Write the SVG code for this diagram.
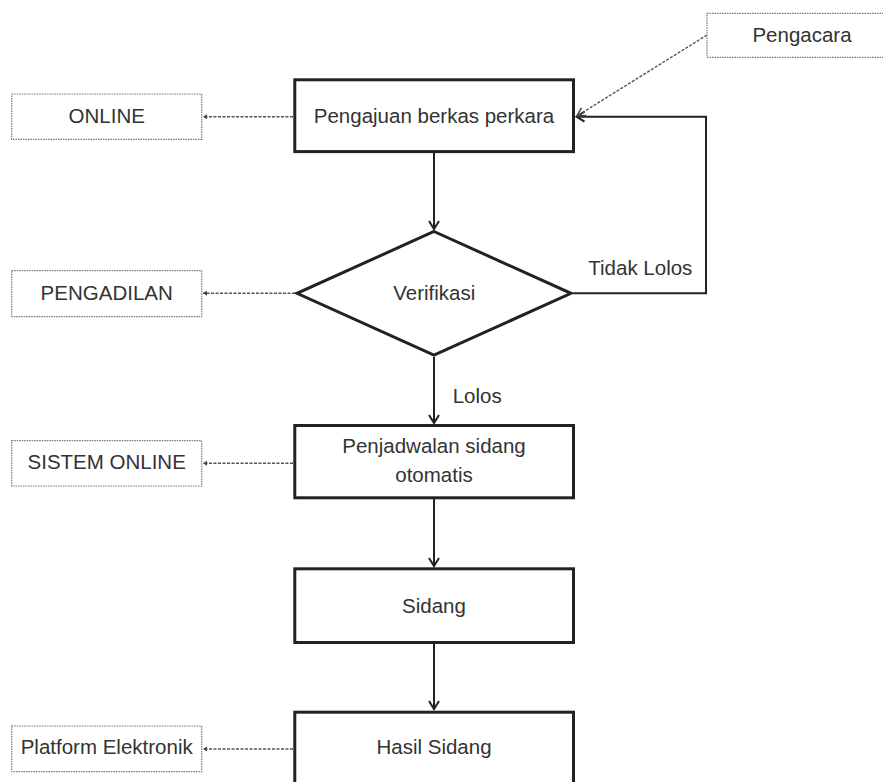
<svg xmlns="http://www.w3.org/2000/svg" width="883" height="782" viewBox="0 0 883 782">
<style>
  text { font-family: "Liberation Sans", Arial, sans-serif; font-size: 20.5px; fill: #333; }
  .c { text-anchor: middle; }
  .proc { fill: #fff; stroke: #222; stroke-width: 3; }
  .note { fill: #fff; stroke: #777; stroke-width: 1.2; stroke-dasharray: 1.5 1; }
  .flow { fill: none; stroke: #222; stroke-width: 2; }
  .assoc { fill: none; stroke: #555; stroke-width: 1.4; stroke-dasharray: 3 1.5; }
</style>
<defs>
  <marker id="arr" markerUnits="userSpaceOnUse" markerWidth="14" markerHeight="14" viewBox="-10 -7 12 14" refX="0" refY="0" orient="auto">
    <path d="M-8,-5 L0,0 L-8,5" fill="none" stroke="#222" stroke-width="2"/>
  </marker>
  <marker id="arrThin" markerUnits="userSpaceOnUse" markerWidth="14" markerHeight="14" viewBox="-10 -7 12 14" refX="0" refY="0" orient="auto">
    <path d="M-8,-4.5 L0,0 L-8,4.5" fill="none" stroke="#444" stroke-width="1.5"/>
  </marker>
  <marker id="dot" markerUnits="userSpaceOnUse" markerWidth="8" markerHeight="8" viewBox="-5 -4 8 8" refX="0" refY="0" orient="auto">
    <path d="M-4,-2.5 L0,0 L-4,2.5 Z" fill="#444"/>
  </marker>
</defs>

<g id="connectors">
  <line class="flow" x1="434" y1="153" x2="434" y2="229" marker-end="url(#arr)"/>
  <line class="flow" x1="434" y1="357" x2="434" y2="423" marker-end="url(#arr)"/>
  <line class="flow" x1="434" y1="499" x2="434" y2="566" marker-end="url(#arr)"/>
  <line class="flow" x1="434" y1="644" x2="434" y2="709" marker-end="url(#arr)"/>
  <polyline class="flow" points="573,293.3 706,293.3 706,116.7 576.5,116.7" marker-end="url(#arr)"/>
  <line class="assoc" x1="707" y1="35" x2="577" y2="116" marker-end="url(#arrThin)"/>
  <line class="assoc" x1="293" y1="116.7" x2="203" y2="116.7" marker-end="url(#dot)"/>
  <line class="assoc" x1="295" y1="293.3" x2="203" y2="293.3" marker-end="url(#dot)"/>
  <line class="assoc" x1="293" y1="463.3" x2="203" y2="463.3" marker-end="url(#dot)"/>
  <line class="assoc" x1="293" y1="749" x2="203" y2="749" marker-end="url(#dot)"/>
  <text x="588.3" y="275">Tidak Lolos</text>
  <text x="452.7" y="403.3">Lolos</text>
</g>

<g id="pengacara">
  <rect class="note" x="707" y="13.3" width="190" height="44"/>
  <text class="c" x="802" y="42">Pengacara</text>
</g>
<g id="online">
  <rect class="note" x="11.7" y="94" width="190" height="45.3"/>
  <text class="c" x="106.7" y="122.7">ONLINE</text>
</g>
<g id="pengajuan">
  <rect class="proc" x="294.8" y="79.8" width="278.7" height="71.8"/>
  <text class="c" x="434" y="123.3">Pengajuan berkas perkara</text>
</g>
<g id="pengadilan">
  <rect class="note" x="11.7" y="270.7" width="190" height="46"/>
  <text class="c" x="106.7" y="300">PENGADILAN</text>
</g>
<g id="verifikasi">
  <polygon class="proc" points="434,231.5 571,293.3 434,355.2 297,293.3"/>
  <text class="c" x="434.3" y="300">Verifikasi</text>
</g>
<g id="sistem-online">
  <rect class="note" x="11.7" y="440.7" width="190" height="45.3"/>
  <text class="c" x="106.7" y="469.3">SISTEM ONLINE</text>
</g>
<g id="penjadwalan">
  <rect class="proc" x="294.8" y="425.5" width="278.7" height="72.3"/>
  <text class="c" x="434" y="453.3">Penjadwalan sidang</text>
  <text class="c" x="434" y="481.7">otomatis</text>
</g>
<g id="sidang">
  <rect class="proc" x="294.8" y="568.8" width="278.7" height="73.7"/>
  <text class="c" x="434" y="612.7">Sidang</text>
</g>
<g id="hasil-sidang">
  <rect class="proc" x="294.8" y="712.2" width="278.7" height="100"/>
  <text class="c" x="434" y="754">Hasil Sidang</text>
</g>
<g id="platform">
  <rect class="note" x="11.7" y="726" width="190" height="45.7"/>
  <text class="c" x="106.7" y="754">Platform Elektronik</text>
</g>
</svg>
